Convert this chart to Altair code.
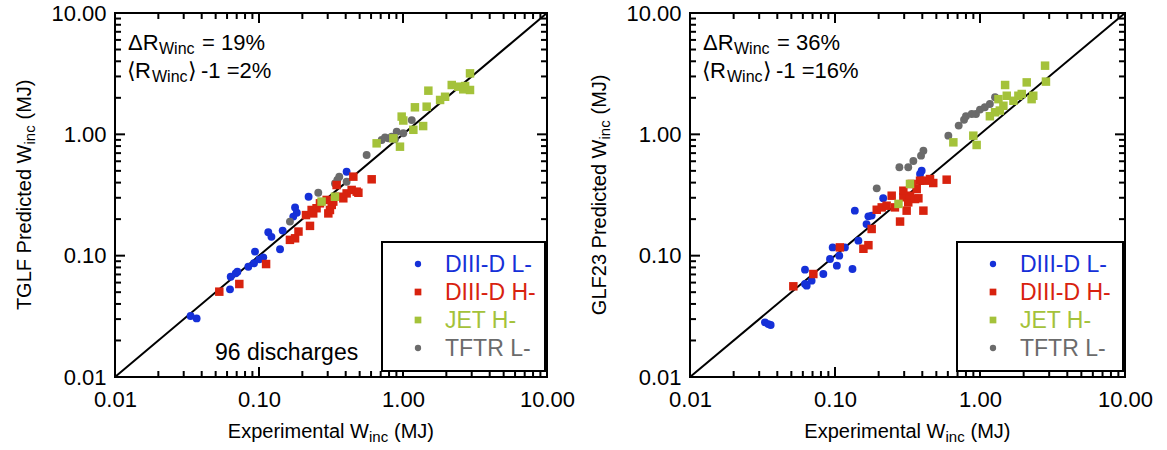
import altair as alt
import pandas as pd

FONT = "Liberation Sans, Arial, DejaVu Sans"

SERIES = ["DIII-D L-", "DIII-D H-", "JET H-", "TFTR L-"]
COLORS = ["#1530d8", "#d8220e", "#a4c23a", "#6b6b6b"]
SHAPES = ["circle", "square", "square", "circle"]

MAJOR_TICKS = [0.01, 0.1, 1, 10]
MINOR_TICKS = [0.02, 0.03, 0.04, 0.05, 0.06, 0.07, 0.08, 0.09,
               0.2, 0.3, 0.4, 0.5, 0.6, 0.7, 0.8, 0.9,
               2, 3, 4, 5, 6, 7, 8, 9]
DOMAIN = [0.01, 10]

# ---------------- TGLF (left panel) ----------------
tglf_dl_x = [0.0335, 0.0369, 0.0629, 0.0636, 0.0689, 0.0708, 0.0843, 0.0923, 0.0938, 0.1005,
             0.107, 0.116, 0.122, 0.140, 0.146, 0.178, 0.183, 0.221, 0.406, 0.173]
tglf_dl_y = [0.0318, 0.0304, 0.0528, 0.0671, 0.0715, 0.0738, 0.0811, 0.0865, 0.108, 0.0933,
             0.0969, 0.156, 0.143, 0.113, 0.161, 0.250, 0.226, 0.306, 0.492, 0.210]
tglf_dh_x = [0.0530, 0.0730, 0.112, 0.164, 0.178, 0.188, 0.212, 0.226, 0.232, 0.251, 0.265,
             0.295, 0.303, 0.311, 0.320, 0.328, 0.346, 0.365, 0.385, 0.406, 0.440, 0.452,
             0.477, 0.490, 0.606, 0.238]
tglf_dh_y = [0.0505, 0.0584, 0.0853, 0.135, 0.139, 0.158, 0.216, 0.176, 0.238, 0.246, 0.270,
             0.288, 0.223, 0.238, 0.262, 0.279, 0.382, 0.306, 0.297, 0.326, 0.348, 0.448,
             0.337, 0.330, 0.426, 0.223]
tglf_jet_x = [0.337, 0.272, 0.656, 0.857, 0.953, 0.979, 1.005, 1.18, 1.21, 1.38, 1.46, 1.50,
              1.81, 1.96, 2.18, 2.42, 2.62, 2.92, 2.92, 2.70]
tglf_jet_y = [0.306, 0.279, 0.843, 0.927, 0.791, 1.40, 1.30, 1.09, 1.67, 1.17, 1.69, 2.29,
              1.92, 2.04, 2.55, 2.47, 2.35, 3.18, 2.32, 2.50]
tglf_tftr_x = [0.164, 0.258, 0.337, 0.350, 0.361, 0.406, 0.559, 0.711, 0.750, 0.791, 0.834,
               0.904, 1.005, 1.15, 0.879]
tglf_tftr_y = [0.191, 0.330, 0.394, 0.420, 0.448, 0.407, 0.676, 0.898, 0.944, 0.927, 0.957,
               1.05, 1.02, 1.31, 0.910]

# ---------------- GLF23 (right panel) ----------------
glf_dl_x = [0.0329, 0.0347, 0.0360, 0.0621, 0.0638, 0.0621, 0.0690, 0.0831, 0.0924, 0.0964,
            0.103, 0.107, 0.117, 0.132, 0.137, 0.145, 0.165, 0.170, 0.179, 0.215, 0.396, 0.386]
glf_dl_y = [0.0282, 0.0273, 0.0268, 0.0584, 0.0566, 0.0767, 0.0622, 0.0706, 0.0939, 0.117,
            0.0827, 0.100, 0.117, 0.0776, 0.235, 0.133, 0.182, 0.211, 0.214, 0.297, 0.502, 0.471]
glf_dh_x = [0.0516, 0.0709, 0.108, 0.157, 0.170, 0.179, 0.194, 0.210, 0.227, 0.246, 0.259,
            0.281, 0.296, 0.312, 0.320, 0.329, 0.338, 0.356, 0.376, 0.386, 0.407, 0.418,
            0.452, 0.476, 0.589, 0.296, 0.366]
glf_dh_y = [0.0559, 0.0706, 0.117, 0.114, 0.122, 0.166, 0.239, 0.250, 0.258, 0.312, 0.250,
            0.191, 0.303, 0.235, 0.275, 0.312, 0.390, 0.293, 0.297, 0.415, 0.235, 0.415,
            0.428, 0.397, 0.423, 0.343, 0.354]
glf_jet_x = [0.329, 0.274, 0.655, 0.899, 0.948, 1.17, 1.27, 1.34, 1.45, 1.49, 1.53, 1.70,
             1.84, 1.94, 2.10, 2.27, 2.33, 2.81, 2.85, 1.37]
glf_jet_y = [0.390, 0.267, 0.859, 0.975, 0.817, 1.41, 1.52, 1.95, 1.72, 2.55, 2.08, 1.89,
             2.08, 2.15, 2.68, 1.95, 2.08, 3.68, 2.72, 1.57]
glf_tftr_x = [0.194, 0.278, 0.320, 0.347, 0.392, 0.407, 0.605, 0.713, 0.776, 0.800, 0.938,
              1.00, 1.08, 1.17, 1.27, 0.877]
glf_tftr_y = [0.359, 0.535, 0.535, 0.603, 0.667, 0.733, 0.975, 1.18, 1.32, 1.41, 1.47,
              1.60, 1.67, 1.78, 2.02, 1.47]


def points_df(groups):
    rows = []
    for name, xs, ys in groups:
        for a, b in zip(xs, ys):
            rows.append({"series": name, "exp": a, "pred": b})
    return pd.DataFrame(rows)


SCALE = alt.Scale(type="log", domain=DOMAIN, nice=False)
X_AX = alt.Axis(values=MAJOR_TICKS, format=".2f", title=None, ticks=False, domain=False,
                grid=False, labelFlush=False, labelPadding=12, labelFontSize=22,
                labelFont=FONT, labelColor="black")
Y_AX = alt.Axis(values=MAJOR_TICKS, format=".2f", title=None, ticks=False, domain=False,
                grid=False, labelFlush=False, labelPadding=9, labelFontSize=22,
                labelFont=FONT, labelColor="black")


def X(f):
    return alt.X(f, type="quantitative", scale=SCALE, axis=X_AX)


def Y(f):
    return alt.Y(f, type="quantitative", scale=SCALE, axis=Y_AX)


ONE = pd.DataFrame({"k": [0]})


def txt(s, x, y, size, align="left", angle=0, color="black"):
    kw = dict(text=s, fontSize=size, font=FONT, align=align, baseline="alphabetic",
              color=color)
    if angle:
        kw["angle"] = angle
    return alt.Chart(ONE).mark_text(**kw).encode(x=alt.value(x), y=alt.value(y))


def panel(groups, W, H, ytitle_main, ytitle_w, dR, dmean, extra_text=None):
    df = points_df(groups)
    layers = []

    # inward ticks, one small layer per tick value (bottom, top, left, right)
    for vals, ln in ((MAJOR_TICKS, 10), (MINOR_TICKS, 6)):
        for v in vals:
            rk = dict(color="black", strokeWidth=2)
            layers.append(alt.Chart(ONE).mark_rule(**rk).encode(
                x=alt.X(datum=v, type="quantitative", scale=SCALE, axis=X_AX),
                y=alt.value(H), y2=alt.value(H - ln)))
            layers.append(alt.Chart(ONE).mark_rule(**rk).encode(
                x=alt.X(datum=v, type="quantitative", scale=SCALE, axis=X_AX),
                y=alt.value(0), y2=alt.value(ln)))
            layers.append(alt.Chart(ONE).mark_rule(**rk).encode(
                y=alt.Y(datum=v, type="quantitative", scale=SCALE, axis=Y_AX),
                x=alt.value(0), x2=alt.value(ln)))
            layers.append(alt.Chart(ONE).mark_rule(**rk).encode(
                y=alt.Y(datum=v, type="quantitative", scale=SCALE, axis=Y_AX),
                x=alt.value(W), x2=alt.value(W - ln)))

    # y = x line
    diag = pd.DataFrame({"exp": DOMAIN, "pred": DOMAIN})
    layers.append(alt.Chart(diag).mark_line(color="black", strokeWidth=2).encode(
        x=X("exp"), y=Y("pred")))

    color = alt.Color("series:N", scale=alt.Scale(domain=SERIES, range=COLORS), legend=None)
    circ = [s for s, sh in zip(SERIES, SHAPES) if sh == "circle"]
    sq = [s for s, sh in zip(SERIES, SHAPES) if sh == "square"]
    layers.append(alt.Chart(df[df.series.isin(circ)]).mark_circle(size=62, opacity=1).encode(
        x=X("exp"), y=Y("pred"), color=color))
    layers.append(alt.Chart(df[df.series.isin(sq)]).mark_square(size=72, opacity=1).encode(
        x=X("exp"), y=Y("pred"), color=color))

    # legend box
    layers.append(alt.Chart(ONE).mark_rect(fill="white", stroke="black", strokeWidth=2).encode(
        x=alt.value(267), x2=alt.value(W - 2), y=alt.value(229), y2=alt.value(H - 6)))

    # legend entries
    rows = [251, 279, 307, 335]
    for s, c, sh, ry in zip(SERIES, COLORS, SHAPES, rows):
        if sh == "circle":
            m = alt.Chart(ONE).mark_circle(size=40, color=c, opacity=1)
        else:
            m = alt.Chart(ONE).mark_square(size=45, color=c, opacity=1)
        layers.append(m.encode(x=alt.value(303), y=alt.value(ry)))
        layers.append(alt.Chart(ONE).mark_text(text=s, fontSize=23, font=FONT, align="left",
                                               baseline="middle", color=c).encode(
            x=alt.value(330), y=alt.value(ry + 1)))

    # statistics annotation
    layers += [
        txt("\u0394R", 13, 37, 22),
        txt("Winc", 44, 41, 16),
        txt("= " + dR, 87, 37, 22),
        txt("\u27e8", 12, 65, 22),
        txt("R", 20, 65, 22),
        txt("Winc", 37, 69, 16),
        txt("\u27e9", 73, 65, 22),
        txt("-1 =" + dmean, 86, 65, 22),
    ]
    if extra_text:
        layers.append(txt(extra_text, 100, 347, 23))

    # x-axis title
    cx = W / 2
    A = cx - 103 + 141
    layers += [
        txt("Experimental W", A, H + 61, 20, align="right"),
        txt("inc", A, H + 65, 15),
        txt("(MJ)", A + 25, H + 61, 20),
    ]
    # y-axis title (rotated)
    cy = H / 2
    total = ytitle_w + 19 + 5.6 + 40
    Ay = cy + total / 2 - ytitle_w
    layers += [
        txt(ytitle_main, -84, Ay, 20, align="right", angle=270),
        txt("inc", -80, Ay, 15, angle=270),
        txt("(MJ)", -84, Ay - 25, 20, angle=270),
    ]

    return alt.layer(*layers).properties(width=W, height=H)


left = panel([("DIII-D L-", tglf_dl_x, tglf_dl_y), ("DIII-D H-", tglf_dh_x, tglf_dh_y),
              ("JET H-", tglf_jet_x, tglf_jet_y), ("TFTR L-", tglf_tftr_x, tglf_tftr_y)],
             432, 364, "TGLF Predicted W", 165.6, "19%", "2%", "96 discharges")
right = panel([("DIII-D L-", glf_dl_x, glf_dl_y), ("DIII-D H-", glf_dh_x, glf_dh_y),
               ("JET H-", glf_jet_x, glf_jet_y), ("TFTR L-", glf_tftr_x, glf_tftr_y)],
              435, 364, "GLF23 Predicted W", 175.6, "36%", "16%")

chart = alt.hconcat(left, right, spacing=143, bounds="flush").properties(
    padding={"left": 13, "top": 1, "right": 5, "bottom": 5},
    background="white",
).configure_view(stroke="black", strokeWidth=2)

chart.save("out.html", embed_options={"renderer": "svg", "actions": False})
